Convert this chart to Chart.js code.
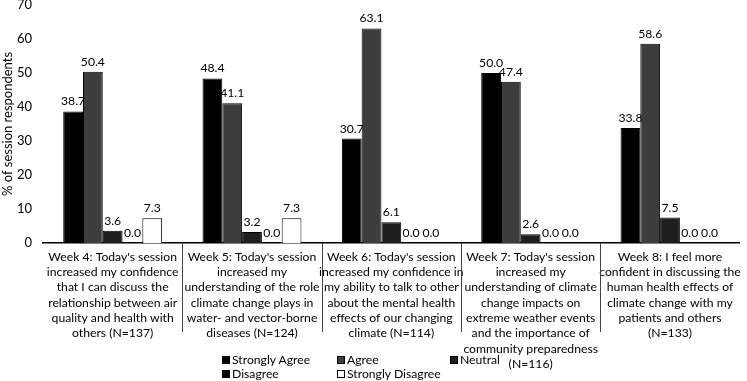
<!DOCTYPE html>
<html>
<head>
<meta charset="utf-8">
<script src="https://cdn.jsdelivr.net/npm/chart.js@4"></script>
<style>
  html,body{margin:0;padding:0;background:#fff;}
  #wrap{position:relative;width:747px;height:381px;}
  #legend{position:absolute;left:0;top:353px;font:12.2px Lato, sans-serif;color:#000;}
  .lg{position:absolute;white-space:nowrap;line-height:14px;}
  .lg i{display:inline-block;width:8px;height:8px;margin-right:2px;border:1px solid #000;box-sizing:border-box;vertical-align:0px;}
</style>
</head>
<body>
<div id="wrap">
  <canvas id="c" width="747" height="381"></canvas>
  <div id="legend"></div>
</div>
<script>
const FONT = 'Lato, sans-serif';
const FS = 12.2;

const categories = [
  ["Week 4: Today's session","increased my confidence","that I can discuss the","relationship between air","quality and health with","others (N=137)"],
  ["Week 5: Today's session","increased my","understanding of the role","climate change plays in","water- and vector-borne","diseases (N=124)"],
  ["Week 6: Today's session","increased my confidence in","my ability to talk to other","about the mental health","effects of our changing","climate (N=114)"],
  ["Week 7: Today's session","increased my","understanding of climate","change impacts on","extreme weather events","and the importance of","community preparedness","(N=116)"],
  ["Week 8: I feel more","confident in discussing the","human health effects of","climate change with my","patients and others","(N=133)"]
];

const stronglyAgree    = [38.7, 48.4, 30.7, 50.0, 33.8];
const agree            = [50.4, 41.1, 63.1, 47.4, 58.6];
const neutral          = [3.6, 3.2, 6.1, 2.6, 7.5];
const disagree         = [0.0, 0.0, 0.0, 0.0, 0.0];
const stronglyDisagree = [7.3, 7.3, 0.0, 0.0, 0.0];

const yMin = 0, yMax = 70, yStep = 10;
const yTitle = '% of session respondents';

const series = [
  {label:'Strongly Agree',    data:stronglyAgree,    color:'#000000'},
  {label:'Agree',             data:agree,            color:'#3d3d3d'},
  {label:'Neutral',           data:neutral,          color:'#1e1e1e'},
  {label:'Disagree',          data:disagree,         color:'#000000'},
  {label:'Strongly Disagree', data:stronglyDisagree, color:'#ffffff'},
];

// value labels above each bar
const barValues = {
  id:'barValues',
  afterDatasetsDraw(chart){
    const ctx = chart.ctx;
    ctx.save();
    ctx.font = FS + 'px ' + FONT;
    ctx.fillStyle = '#000';
    ctx.textAlign = 'center';
    ctx.textBaseline = 'alphabetic';
    chart.data.datasets.forEach((ds,i)=>{
      chart.getDatasetMeta(i).data.forEach((bar,j)=>{
        ctx.fillText(ds.data[j].toFixed(1), bar.x, bar.y - 6);
      });
    });
    ctx.restore();
  }
};

// long tick marks between categories, below the axis
const catSeparators = {
  id:'catSeparators',
  afterDraw(chart){
    const x = chart.scales.x, ctx = chart.ctx, top = chart.chartArea.bottom;
    ctx.save();
    ctx.strokeStyle = '#444';
    ctx.lineWidth = 1;
    for(let i=0;i<categories.length-1;i++){
      const px = Math.round((x.getPixelForValue(i)+x.getPixelForValue(i+1))/2)+0.5;
      ctx.beginPath(); ctx.moveTo(px, top); ctx.lineTo(px, top+89); ctx.stroke();
    }
    ctx.restore();
  }
};

const chart = new Chart(document.getElementById('c'), {
  type:'bar',
  data:{
    labels: categories,
    datasets: series.map(s=>({
      label:s.label, data:s.data, backgroundColor:s.color,
      borderColor:'#000', borderWidth:1,
      categoryPercentage:0.71, barPercentage:1.0
    }))
  },
  options:{
    responsive:false, animation:false, devicePixelRatio:1,
    layout:{padding:{top:0,right:2,bottom:9,left:0}},
    plugins:{legend:{display:false}, tooltip:{enabled:false}},
    scales:{
      x:{
        afterFit(s){ s.height = 129; },
        grid:{display:false, drawTicks:false},
        border:{display:true, color:'#000', width:1.5},
        ticks:{autoSkip:false, maxRotation:0, minRotation:0, padding:6, color:'#000',
               font:{family:FONT, size:FS, lineHeight:1.26}}
      },
      y:{
        min:yMin, max:yMax,
        afterFit(s){ s.width = 43; s.paddingTop = 5; s.paddingBottom = 0; },
        grid:{display:false, drawTicks:false},
        border:{display:false},
        ticks:{stepSize:yStep, padding:11, color:'#000', font:{family:FONT, size:13}},
        title:{display:true, text:yTitle, color:'#000', padding:0, font:{family:FONT, size:13}}
      }
    }
  },
  plugins:[barValues, catSeparators]
});

// legend: three columns, two rows
const legendCols = [222, 337, 450];
document.getElementById('legend').innerHTML = chart.data.datasets.map((ds,i)=>
  `<div class="lg" style="left:${legendCols[i%3]}px;top:${Math.floor(i/3)*14}px"><i style="background:${ds.backgroundColor}"></i>${ds.label}</div>`
).join('');
</script>
</body>
</html>
